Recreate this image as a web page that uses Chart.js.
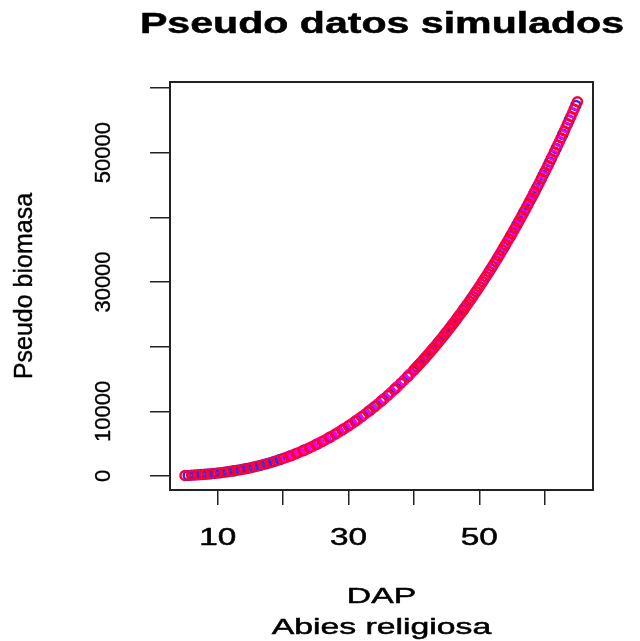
<!DOCTYPE html>
<html>
<head>
<meta charset="utf-8">
<title>Pseudo datos simulados</title>
<script src="https://cdn.jsdelivr.net/npm/chart.js@4.4.1/dist/chart.umd.min.js"></script>
<style>
  html, body { margin: 0; padding: 0; background: #fff; }
  #wrap { width: 640px; height: 641px; position: relative; }
</style>
</head>
<body>
<div id="wrap"><canvas id="plot"></canvas></div>
<script>
// Values (DAP vs pseudo biomass)
const redX = [5,6,7,8,9,10,11,12,13,14,15,16,17,18,19,20,21,22,23,24,25,26,27,28,29,30,31,32,33,34,35,36,37,38,39,40,
  40.5,41,41.5,42,42.5,43,43.5,44,44.5,45,45.5,46,46.5,47,47.5,48,48.5,49,49.5,50,
  50.5,51,51.5,52,52.5,53,53.5,54,54.5,55,55.5,56,56.5,57,57.5,58,58.5,59,59.5,60,
  60.5,61,61.5,62,62.5,63,63.5,64,64.5,65];
const redY = [74,118,176,250,339,446,571,716,882,1069,1279,1513,1772,2056,2366,2704,3069,3464,3889,4342,
  4828,5345,5896,6480,7100,7753,8443,9168,9932,10734,11573,12453,13373,14335,15337,16379,
  16920,17468,18027,18595,19176,19767,20371,20985,21612,22250,22897,23555,24227,24909,25605,26312,27031,27761,28504,29257,
  30024,30803,31594,32396,33217,34048,34891,35744,36610,37486,38383,39290,40211,41143,42083,43033,44006,44990,45990,47000,
  48029,49069,50121,51184,52266,53358,54470,55592,56730,57877];

const magentaX = [20.5,21.5,22.5,23.5,24.5,25.5,26.5,27.5,28.5,29.5,30.5,31.5,32.5,33.5,34.5,35.5,36.5,37.5,38.5,39.5,
  40.25,41.25,42.25,43.25,44.25,45.25,46.25,47.25,48.25,49.25,50.25,51.25,52.25,53.25,54.25,55.25,56.25,57.25,58.25,59.25,
  60.25,61.25,62.25,63.25,64.25];
const magentaY = [2884,3264,3674,4113,4582,5084,5618,6185,6787,7423,8095,8802,9547,10330,11151,12010,12910,13851,14833,15855,
  16650,17750,18885,20070,21300,22575,23895,25260,26675,28135,29645,31200,32810,34470,36180,37935,39755,41615,43520,45490,
  47515,49600,51725,53915,56165];

const blueX = [5.5,6.5,7.5,8.5,9.5,10.5,11.5,12.5,13.5,14.5,15.5,16.5,17.5,18.5,19.5,
  21.25,23.25,25.25,27.25,29.25,31.25,33.25,35.25,37.25,39.25,
  40.75,41.75,42.75,43.75,44.75,45.75,46.75,47.75,48.75,49.75,50.75,51.75,52.75,53.75,54.75,
  55.75,56.75,57.75,58.75,59.75,60.75,61.75,62.75,63.75,64.75];
const blueY = [94,145,211,293,390,506,641,796,973,1171,1393,1640,1911,2208,2532,
  3168,4002,4957,6042,7263,8624,10132,11793,13613,15597,
  17195,18310,19475,20680,21935,23230,24570,25960,27400,28885,30415,31995,33635,35320,37050,
  38840,40680,42560,44500,46500,48550,50655,52815,55035,57305];

const greenX = [12.5,33.7,47.6,58.3,62.8];
const greenY = [800,10480,25750,43620,52890];

const xTicks = [10,20,30,40,50,60];
const xTickLabels = [10,30,50];
const yTicks = [0,10000,20000,30000,40000,50000,60000];
const yTickLabels = [0,10000,30000,50000];

const FONT = '"Liberation Sans", Arial, sans-serif';

function toPoints(xs, ys) {
  return xs.map((x, i) => ({ x: x, y: ys[i] }));
}

function ring(label, xs, ys, color) {
  return {
    label: label,
    data: toPoints(xs, ys),
    borderColor: color,
    backgroundColor: 'rgba(0,0,0,0)',
    pointRadius: 4.5,
    pointBorderWidth: 2.5,
    pointHoverRadius: 4.5
  };
}

// stretched horizontal text, like the R device output
function hText(ctx, text, x, y, font, sx) {
  ctx.save();
  ctx.translate(x, y);
  ctx.scale(sx, 1);
  ctx.font = font;
  ctx.fillStyle = '#000';
  ctx.strokeStyle = '#000';
  ctx.lineWidth = 0.5;
  ctx.textAlign = 'center';
  ctx.textBaseline = 'alphabetic';
  ctx.fillText(text, 0, 0);
  ctx.strokeText(text, 0, 0);
  ctx.restore();
}

function vText(ctx, text, x, y, font) {
  ctx.save();
  ctx.translate(x, y);
  ctx.rotate(-Math.PI / 2);
  ctx.font = font;
  ctx.fillStyle = '#000';
  ctx.strokeStyle = '#000';
  ctx.lineWidth = 0.4;
  ctx.textAlign = 'center';
  ctx.textBaseline = 'alphabetic';
  ctx.fillText(text, 0, 0);
  ctx.strokeText(text, 0, 0);
  ctx.restore();
}

const rPlotDecor = {
  id: 'rPlotDecor',
  afterDraw(chart) {
    const ctx = chart.ctx;
    const a = chart.chartArea;
    const sx = chart.scales.x;
    const sy = chart.scales.y;

    // box
    ctx.save();
    ctx.strokeStyle = '#222';
    ctx.lineWidth = 2;
    ctx.strokeRect(a.left, a.top, a.right - a.left, a.bottom - a.top);
    ctx.restore();

    hText(ctx, 'Pseudo datos simulados', 382, 33, 'bold 30px ' + FONT, 1.37);

    xTickLabels.forEach(v => {
      hText(ctx, String(v), sx.getPixelForValue(v), 545, '23px ' + FONT, 1.45);
    });
    yTickLabels.forEach(v => {
      vText(ctx, String(v), 110, sy.getPixelForValue(v), '22px ' + FONT);
    });

    hText(ctx, 'DAP', (a.left + a.right) / 2, 603, '22.5px ' + FONT, 1.5);
    hText(ctx, 'Abies religiosa', (a.left + a.right) / 2, 634, '22.5px ' + FONT, 1.5);
    vText(ctx, 'Pseudo biomasa', 32, (a.top + a.bottom) / 2, '25px ' + FONT);
  }
};

const axisGrid = len => ({
  drawOnChartArea: false,
  drawTicks: true,
  tickLength: len,
  color: '#222',
  lineWidth: 1.5
});

new Chart(document.getElementById('plot'), {
  type: 'scatter',
  data: {
    datasets: [
      ring('rojo', redX, redY, '#ff0033'),
      ring('magenta', magentaX, magentaY, '#ee00ff'),
      ring('azul', blueX, blueY, '#2a2aff'),
      ring('verde', greenX, greenY, '#00d000')
    ]
  },
  options: {
    responsive: true,
    maintainAspectRatio: false,
    animation: false,
    layout: { padding: { left: 150, top: 82, right: 47, bottom: 136 } },
    plugins: {
      legend: { display: false },
      tooltip: { enabled: false },
      title: { display: false }
    },
    scales: {
      x: {
        type: 'linear',
        min: 2.71,
        max: 67.38,
        afterBuildTicks: s => { s.ticks = xTicks.map(v => ({ value: v })); },
        ticks: { display: false },
        grid: axisGrid(15),
        border: { display: false }
      },
      y: {
        type: 'linear',
        min: -2167,
        max: 60929,
        afterBuildTicks: s => { s.ticks = yTicks.map(v => ({ value: v })); },
        ticks: { display: false },
        grid: axisGrid(20),
        border: { display: false }
      }
    }
  },
  plugins: [rPlotDecor]
});
</script>
</body>
</html>
